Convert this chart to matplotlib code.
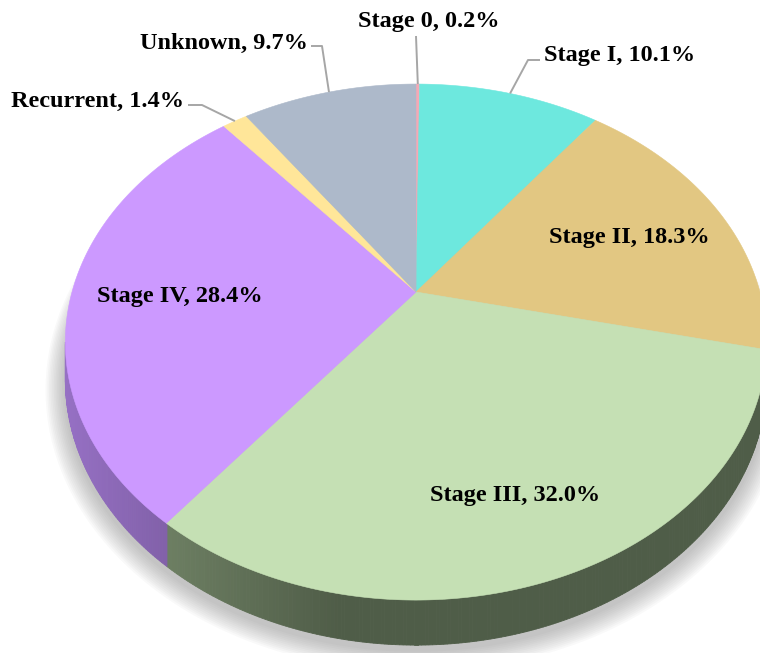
import numpy as np
import matplotlib.pyplot as plt
from matplotlib.colors import to_rgb
from matplotlib.patches import Polygon

# ---------------- data ----------------
labels = ["Stage 0", "Stage I", "Stage II", "Stage III", "Stage IV", "Recurrent", "Unknown"]
shares = [0.2, 10.1, 18.3, 32.0, 28.4, 1.4, 9.7]
top_colors = ["#f4a9b6", "#6de8de", "#e2c782", "#c5e0b4", "#cc99ff", "#ffe699", "#adb9ca"]
side_colors = ["#9a6a72", "#3f8c86", "#8c7a4c", "#7e9372", "#9670c4", "#a08f5c", "#6a7282"]

# ---------------- fake 3D projection of the pie disc ----------------
CX, CY = 416, 292      # pie centre in pixels
AX, BY = 344, 248.3    # horizontal / vertical radius
TILT = -0.194          # perspective
DEPTH = 36.3           # pie thickness


def project(theta, r=1.0, drop=0.0):
    t = np.radians(theta)
    u = r * np.sin(t)
    v = -r * np.cos(t)
    w = 1 + TILT * v
    return CX + AX * u / w, CY + (BY * v + drop) / w


frac = np.array(shares) / np.sum(shares)
edges = np.concatenate([[0], np.cumsum(frac) * 360])

fig = plt.figure(figsize=(7.6, 6.53), dpi=100)
ax = fig.add_axes([0, 0, 1, 1])
ax.set_xlim(0, 760)
ax.set_ylim(653, 0)
ax.axis("off")

# soft shadow under the pie
full = np.linspace(0, 360, 361)
for k in range(12, 0, -1):
    sx, sy = project(full, r=1 + k * 0.0045, drop=DEPTH + 4)
    ax.add_patch(Polygon(np.column_stack([sx, sy]), closed=True,
                         facecolor="#7a7a7a", edgecolor="none", alpha=0.045, zorder=1))

# side wall (only the front half is visible), lighter towards the left
th_r = np.degrees(np.arccos(TILT))
th_l = 360 - th_r
steps = np.linspace(th_r, th_l, 320)
x_min, x_max = CX - AX * 1.02, CX + AX * 1.02
for a0, a1 in zip(steps[:-1], steps[1:]):
    mid = (a0 + a1) / 2
    i = np.searchsorted(edges, mid) - 1
    x0t, y0t = project(a0)
    x1t, y1t = project(a1)
    x0b, y0b = project(a0, drop=DEPTH)
    x1b, y1b = project(a1, drop=DEPTH)
    f = ((x0t + x1t) / 2 - x_min) / (x_max - x_min)
    m = max(0.63, 1 - 0.95 * f)
    col = np.clip(np.array(to_rgb(side_colors[i])) * m, 0, 1)
    ax.add_patch(Polygon([(x0t, y0t), (x1t, y1t), (x1b, y1b), (x0b, y0b)],
                         closed=True, facecolor=col, edgecolor=col, lw=0.6, zorder=2))

# top face slices
for i in range(len(labels)):
    arc = np.linspace(edges[i], edges[i + 1], max(3, int((edges[i + 1] - edges[i]) * 2)))
    px, py = project(arc)
    pts = np.vstack([[CX, CY], np.column_stack([px, py])])
    ax.add_patch(Polygon(pts, closed=True, facecolor=top_colors[i],
                         edgecolor=top_colors[i], lw=0.4, zorder=3))

# ---------------- labels ----------------
font = dict(family=["Liberation Serif", "DejaVu Serif"], fontweight="bold",
            fontsize=17.5, color="black", zorder=5)
mids = (edges[:-1] + edges[1:]) / 2

# labels inside the slices
inside = {"Stage II": 0.69, "Stage III": 0.745, "Stage IV": 0.686}
for i, name in enumerate(labels):
    if name in inside:
        tx, ty = project(mids[i], r=inside[name])
        ax.text(tx, ty + 2, f"{name}, {shares[i]:.1f}%", ha="center", va="center", **font)

# labels outside with leader lines: (text x, text y, ha, elbow points)
outside = {
    "Stage 0": (429, 21, "center", [(416, 36)]),
    "Unknown": (308, 43, "right", [(311, 46), (322, 46)]),
    "Stage I": (544, 56, "left", [(540, 60), (528, 60)]),
    "Recurrent": (184, 101, "right", [(188, 105), (202, 105)]),
}
for i, name in enumerate(labels):
    if name in outside:
        tx, ty, ha, pts = outside[name]
        ex, ey = project(mids[i])
        lx = [p[0] for p in pts] + [ex]
        ly = [p[1] for p in pts] + [ey]
        ax.plot(lx, ly, color="#a6a6a6", lw=1.4, zorder=4, solid_capstyle="butt")
        ax.text(tx, ty, f"{name}, {shares[i]:.1f}%", ha=ha, va="center", **font)

fig.savefig("out.png", dpi=100, facecolor="white")
